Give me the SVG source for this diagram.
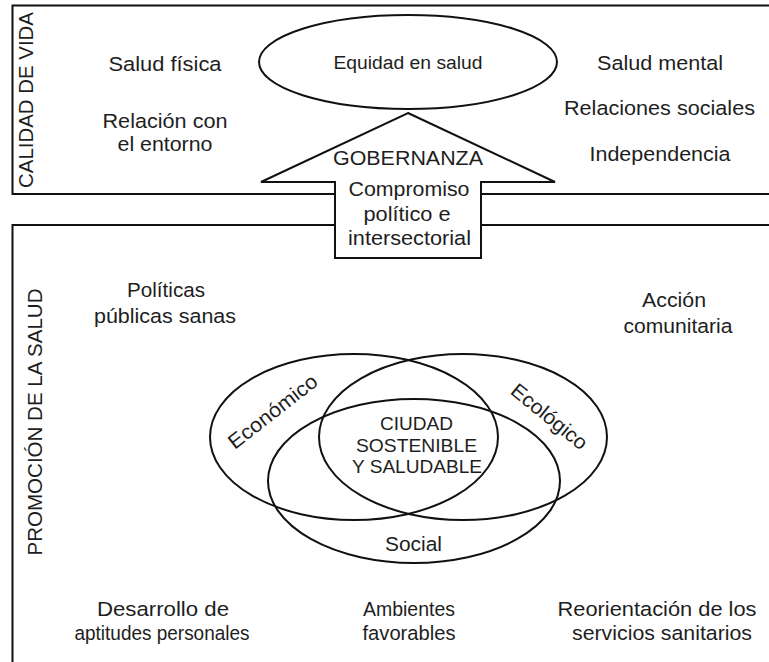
<svg xmlns="http://www.w3.org/2000/svg" width="769" height="662" viewBox="0 0 769 662">
<style>
.frame{fill:none;stroke:#111;stroke-width:2}
.shape{fill:#fff;stroke:#111;stroke-width:2}
.venn{fill:none;stroke:#111;stroke-width:2}
text{font-family:"Liberation Sans",Arial,sans-serif;font-size:20.5px;fill:#1e1e1e;text-anchor:middle}
.sm{font-size:18px}
.vt{font-size:20px}
</style>
<rect width="769" height="662" fill="#fff"/>
<g id="calidad-de-vida">
<rect class="frame" x="12.5" y="5.5" width="780" height="188.5"/>
<text class="vt" transform="translate(33,100) rotate(-90)" textLength="176" lengthAdjust="spacingAndGlyphs">CALIDAD DE VIDA</text>
<text x="165" y="71" textLength="113" lengthAdjust="spacingAndGlyphs">Salud física</text>
<text x="165" y="128" textLength="125" lengthAdjust="spacingAndGlyphs">Relación con</text>
<text x="165" y="151" textLength="95" lengthAdjust="spacingAndGlyphs">el entorno</text>
<text x="660" y="70" textLength="126" lengthAdjust="spacingAndGlyphs">Salud mental</text>
<text x="659.5" y="115" textLength="191" lengthAdjust="spacingAndGlyphs">Relaciones sociales</text>
<text x="660" y="161" textLength="141" lengthAdjust="spacingAndGlyphs">Independencia</text>
</g>
<g id="promocion-de-la-salud">
<rect class="frame" x="12.5" y="225" width="780" height="460"/>
<text class="vt" transform="translate(42,422) rotate(-90)" textLength="267" lengthAdjust="spacingAndGlyphs">PROMOCIÓN DE LA SALUD</text>
<text x="166" y="297" textLength="78" lengthAdjust="spacingAndGlyphs">Políticas</text>
<text x="165" y="323" textLength="142" lengthAdjust="spacingAndGlyphs">públicas sanas</text>
<text x="674" y="307" textLength="64" lengthAdjust="spacingAndGlyphs">Acción</text>
<text x="678" y="333" textLength="109" lengthAdjust="spacingAndGlyphs">comunitaria</text>
<text x="163" y="616" textLength="132" lengthAdjust="spacingAndGlyphs">Desarrollo de</text>
<text x="162" y="640" textLength="175" lengthAdjust="spacingAndGlyphs">aptitudes personales</text>
<text x="409" y="616" textLength="92" lengthAdjust="spacingAndGlyphs">Ambientes</text>
<text x="409" y="640" textLength="93" lengthAdjust="spacingAndGlyphs">favorables</text>
<text x="657" y="616" textLength="199" lengthAdjust="spacingAndGlyphs">Reorientación de los</text>
<text x="662" y="640" textLength="180" lengthAdjust="spacingAndGlyphs">servicios sanitarios</text>
</g>
<g id="equidad-en-salud">
<ellipse class="shape" cx="408" cy="62" rx="149" ry="47"/>
<text class="sm" x="408" y="69" textLength="149" lengthAdjust="spacingAndGlyphs">Equidad en salud</text>
</g>
<g id="gobernanza">
<polygon class="shape" points="408,113 555,182 481,182 481,258 335,258 335,182 261,182"/>
<text x="408" y="165" textLength="150" lengthAdjust="spacingAndGlyphs">GOBERNANZA</text>
<text x="409" y="196" textLength="121" lengthAdjust="spacingAndGlyphs">Compromiso</text>
<text x="407" y="221" textLength="87" lengthAdjust="spacingAndGlyphs">político e</text>
<text x="409.5" y="245" textLength="123" lengthAdjust="spacingAndGlyphs">intersectorial</text>
</g>
<g id="economico">
<ellipse class="venn" cx="354" cy="437" rx="144" ry="83"/>
<text transform="translate(277,417) rotate(-38)" textLength="107" lengthAdjust="spacingAndGlyphs">Económico</text>
</g>
<g id="ecologico">
<ellipse class="venn" cx="463" cy="437" rx="144" ry="83"/>
<text transform="translate(545,422) rotate(39)" textLength="92" lengthAdjust="spacingAndGlyphs">Ecológico</text>
</g>
<g id="social">
<ellipse class="venn" cx="414" cy="481" rx="146" ry="82"/>
<text x="413.5" y="551" textLength="57" lengthAdjust="spacingAndGlyphs">Social</text>
</g>
<g id="ciudad-sostenible">
<text class="sm" x="416.5" y="430" textLength="73" lengthAdjust="spacingAndGlyphs">CIUDAD</text>
<text class="sm" x="416.5" y="452" textLength="121" lengthAdjust="spacingAndGlyphs">SOSTENIBLE</text>
<text class="sm" x="417" y="473" textLength="130" lengthAdjust="spacingAndGlyphs">Y SALUDABLE</text>
</g>
<g id="connectors"></g>
</svg>
